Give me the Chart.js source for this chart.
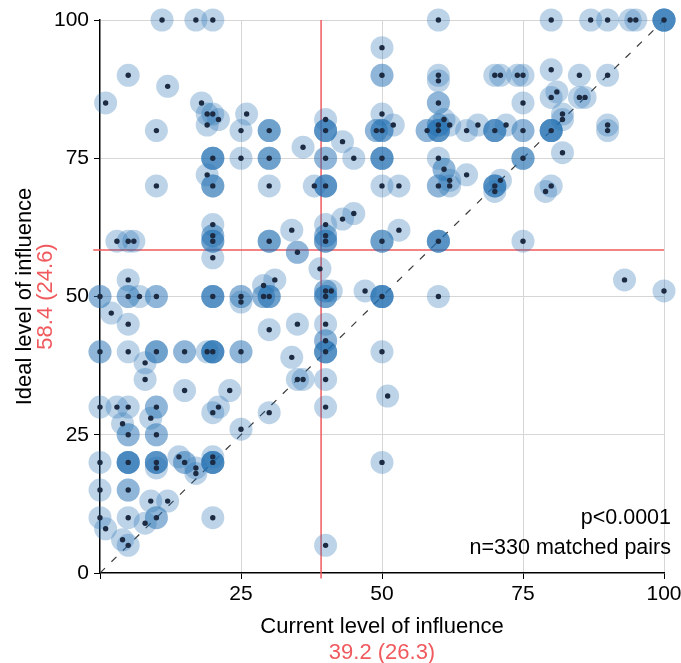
<!DOCTYPE html>
<html>
<head>
<meta charset="utf-8">
<script src="https://cdn.jsdelivr.net/npm/chart.js@4"></script>
<style>
  body { margin: 0; background: #fff; }
  canvas { display: block; }
</style>
</head>
<body>
<canvas id="grafico" width="681" height="663"></canvas>
<script>
// current / ideal level of influence per point, and how many pairs sit on it
const currentLevel = [
  11,17,20,5,12,1,10,18,19,20,21,19,26,25,30,20,25,30,19,20,10,30,
  60,50,50,60,60,60,50,40,40,43,36,45,40,49,50,52,50,58,60,60,61,62,65,67,60,61,62,62,65,60,50,53,38,40,
  80,87,90,94,95,100,70,71,74,75,80,85,90,75,80,81,85,86,82,82,70,72,75,80,90,90,82,75,70,71,70,80,79,
  3,5,6,20,20,20,20,30,5,0,5,7,10,20,25,25,29,31,29,30,2,5,30,0,5,10,15,19,20,25,8,8,15,23,
  45,43,34,40,40,40,50,53,60,35,39,40,41,40,47,50,60,35,40,40,40,34,50,35,36,40,51,
  75,93,100,
  0,3,5,10,9,4,20,21,5,10,25,30,0,5,10,10,14,15,17,17,20,20,0,5,9,12,0,1,5,8,10,20,4,5,
  40,50,40
];
const idealLevel = [
  100,100,100,90,88,85,80,85,83,83,82,81,83,80,80,75,75,75,72,70,70,70,
  100,95,90,90,89,85,83,82,80,78,77,75,75,80,80,81,75,80,81,80,82,81,80,81,75,73,71,70,72,70,70,70,70,70,
  100,100,100,100,100,100,90,90,90,90,91,90,90,85,86,87,86,86,83,82,80,81,80,80,81,80,76,75,70,71,69,70,69,
  60,60,60,63,61,60,57,60,53,50,50,50,50,50,50,49,52,53,50,50,47,45,44,40,40,40,40,40,40,40,38,35,33,33,
  65,64,62,63,61,60,60,62,60,58,55,51,51,50,51,50,50,45,45,42,40,39,40,35,35,35,32,
  60,53,51,
  30,30,30,30,28,27,29,30,25,25,26,29,20,20,20,19,21,20,19,18,21,20,15,15,13,13,10,8,10,9,10,10,6,5,
  30,20,5
];
const pairCount = [
  1,1,1,1,1,1,1,1,1,1,1,1,1,1,3,4,1,3,1,3,1,1,
  1,1,2,1,1,2,1,1,4,1,1,1,2,2,3,1,4,2,2,4,1,1,1,1,1,2,1,1,1,2,1,1,1,4,
  1,1,1,1,1,5,1,1,1,1,1,1,1,1,1,1,1,1,1,1,4,1,2,5,1,1,1,3,4,1,1,1,1,
  1,1,1,1,2,3,1,3,1,2,2,1,2,4,2,1,1,1,2,3,1,1,1,2,1,3,2,1,5,2,1,1,1,1,
  1,1,1,1,2,3,3,1,4,2,1,2,1,3,1,5,1,1,1,2,4,1,1,1,1,1,1,
  1,1,1,
  1,1,1,2,1,1,1,1,2,2,1,1,1,5,4,1,1,2,1,1,1,5,1,2,1,1,1,1,1,1,2,1,1,1,
  1,1,1
];

// means (sd) shown in red
const meanCurrent = 39.2, sdCurrent = 26.3;
const meanIdeal = 58.4, sdIdeal = 24.6;

const axisTicks = [0, 25, 50, 75, 100];
const statLines = ["p<0.0001", "n=330 matched pairs"];

const fonte = '"Liberation Sans", Arial, sans-serif';
const vermelho = '#f05a5e';

let pontos = [];
let centros = [];
for (let i = 0; i < currentLevel.length; i++) {
    for (let k = 0; k < pairCount[i]; k++) {
        pontos.push({ x: currentLevel[i], y: idealLevel[i] });
    }
    centros.push({ x: currentLevel[i], y: idealLevel[i] });
}

const textos = {
    id: 'textos',
    afterDraw(chart) {
        const c = chart.ctx;
        const area = chart.chartArea;
        const meioX = (area.left + area.right) / 2;
        const meioY = (area.top + area.bottom) / 2;
        c.save();
        c.font = '22px ' + fonte;
        c.textAlign = 'center';
        c.textBaseline = 'middle';

        c.fillStyle = '#000';
        c.fillText('Current level of influence', meioX, 627);
        c.fillStyle = vermelho;
        c.fillText(meanCurrent.toFixed(1) + ' (' + sdCurrent.toFixed(1) + ')', meioX, 653);

        c.save();
        c.translate(25, meioY);
        c.rotate(-Math.PI / 2);
        c.fillStyle = '#000';
        c.fillText('Ideal level of influence', 0, 0);
        c.restore();
        c.save();
        c.translate(46, meioY);
        c.rotate(-Math.PI / 2);
        c.fillStyle = vermelho;
        c.fillText(meanIdeal.toFixed(1) + ' (' + sdIdeal.toFixed(1) + ')', 0, 0);
        c.restore();

        c.font = '21.5px ' + fonte;
        c.fillStyle = '#000';
        c.textAlign = 'right';
        c.fillText(statLines[0], 671, 518);
        c.fillText(statLines[1], 671, 548);
        c.restore();
    }
};

function gradeCor(ctx) {
    return ctx.tick && ctx.tick.value === 0 ? 'rgba(0,0,0,0)' : '#d6d6d6';
}

let ctx = document.getElementById('grafico').getContext('2d');

let grafico = new Chart(ctx, {
    type: 'scatter',
    data: {
        datasets: [
            {
                label: 'centros',
                data: centros,
                pointRadius: 2.7,
                pointBackgroundColor: '#1c2a42',
                pointBorderWidth: 0,
                clip: false,
                order: 0
            },
            {
                label: 'pares',
                data: pontos,
                pointRadius: 11.5,
                pointBackgroundColor: 'rgba(35,112,180,0.3)',
                pointBorderWidth: 0,
                clip: false,
                order: 1
            },
            {
                label: 'media x',
                data: [{ x: meanCurrent, y: -1 }, { x: meanCurrent, y: 100 }],
                showLine: true,
                borderColor: vermelho,
                borderWidth: 1.5,
                pointRadius: 0,
                clip: false,
                order: 2
            },
            {
                label: 'media y',
                data: [{ x: -1.2, y: meanIdeal }, { x: 100, y: meanIdeal }],
                showLine: true,
                borderColor: vermelho,
                borderWidth: 1.5,
                pointRadius: 0,
                clip: false,
                order: 3
            },
            {
                label: 'diagonal',
                data: [{ x: 0, y: 0 }, { x: 100, y: 100 }],
                showLine: true,
                borderColor: '#3a3a3a',
                borderWidth: 1.2,
                borderDash: [7, 9],
                pointRadius: 0,
                order: 4
            }
        ]
    },
    options: {
        responsive: false,
        animation: false,
        devicePixelRatio: 1,
        layout: {
            padding: { top: 20, right: 17, bottom: 0, left: 0 }
        },
        plugins: {
            legend: { display: false },
            tooltip: { enabled: false }
        },
        scales: {
            x: {
                type: 'linear',
                min: 0,
                max: 100,
                afterFit: s => {
                    s.height = 90;
                    s.paddingLeft = 0;
                    s.paddingRight = 0;
                },
                afterBuildTicks: s => { s.ticks = axisTicks.map(v => ({ value: v })); },
                border: { color: '#000', width: 1.5 },
                grid: {
                    color: gradeCor,
                    tickColor: '#000',
                    tickLength: 6,
                    lineWidth: 1
                },
                ticks: {
                    color: '#000',
                    padding: 3,
                    maxRotation: 0,
                    font: { family: fonte, size: 21 },
                    callback: v => v === 0 ? '' : String(v)
                }
            },
            y: {
                type: 'linear',
                min: 0,
                max: 100,
                afterFit: s => {
                    s.width = 100;
                    s.paddingTop = 0;
                    s.paddingBottom = 0;
                },
                afterBuildTicks: s => { s.ticks = axisTicks.map(v => ({ value: v })); },
                border: { color: '#000', width: 1.5 },
                grid: {
                    color: gradeCor,
                    tickColor: '#000',
                    tickLength: 6,
                    lineWidth: 1
                },
                ticks: {
                    color: '#000',
                    padding: 5,
                    font: { family: fonte, size: 21 },
                    callback: v => String(v)
                }
            }
        }
    },
    plugins: [textos]
});
</script>
</body>
</html>
